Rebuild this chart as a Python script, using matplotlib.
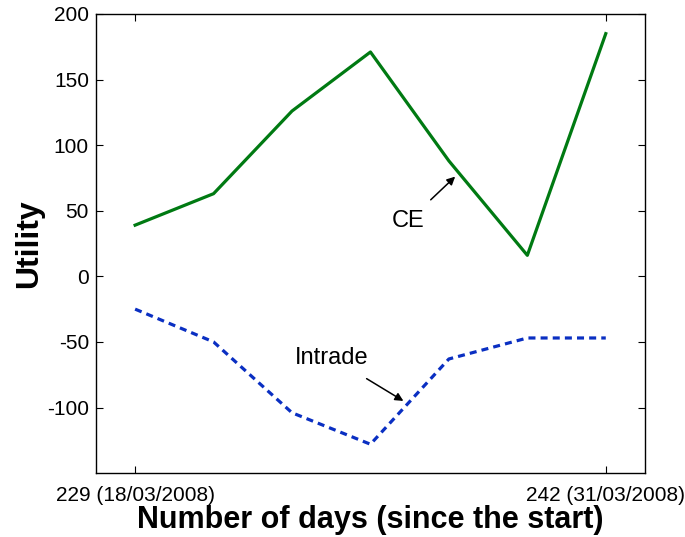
import numpy as np
import matplotlib.pyplot as plt

plt.rcParams['font.family'] = ['Liberation Sans', 'DejaVu Sans']
plt.rcParams['axes.unicode_minus'] = False

# Daily snapshots between day 229 and day 242
day_index = np.arange(7)
day_ticks = [0, 6]
day_labels = ['229 (18/03/2008)', '242 (31/03/2008)']

# Utility of each market
ce_utility = [39, 63, 126, 171, 88, 16, 185]
intrade_utility = [-25, -50, -104, -128, -63, -47, -47]

fig = plt.figure(figsize=(6.85, 5.37), dpi=100)
ax = fig.add_axes([0.140, 0.119, 0.8016, 0.855])

ax.plot(day_index, ce_utility, color='#007a12', linewidth=2.3)
ax.plot(day_index, intrade_utility, color='#0a2fc2', linewidth=2.3,
        linestyle=(0, (2.2, 1.6)))

ax.annotate('CE', xy=(4.08, 76), xytext=(3.48, 42),
            fontsize=17, ha='center', va='center',
            arrowprops=dict(arrowstyle='-|>', color='black', lw=1.1,
                            shrinkA=8, shrinkB=0, mutation_scale=12))
ax.annotate('Intrade', xy=(3.42, -95), xytext=(2.51, -62),
            fontsize=17, ha='center', va='center',
            arrowprops=dict(arrowstyle='-|>', color='black', lw=1.1,
                            shrinkA=10, shrinkB=0, mutation_scale=12))

ax.set_xlim(-0.5, 6.5)
ax.set_ylim(-150, 200)
ax.set_xticks(day_ticks)
ax.set_xticklabels(day_labels)
ax.set_yticks([-100, -50, 0, 50, 100, 150, 200])
ax.tick_params(direction='in', length=5, width=0.8, labelsize=15,
               top=True, right=True)
ax.tick_params(axis='x', pad=9)
ax.tick_params(axis='y', pad=5)
for spine in ax.spines.values():
    spine.set_linewidth(1.0)

ax.set_xlabel('Number of days (since the start)', fontsize=22,
              fontweight='bold', labelpad=0)
ax.set_ylabel('Utility', fontsize=23, fontweight='bold', labelpad=2)

fig.savefig('out.png', dpi=100)
